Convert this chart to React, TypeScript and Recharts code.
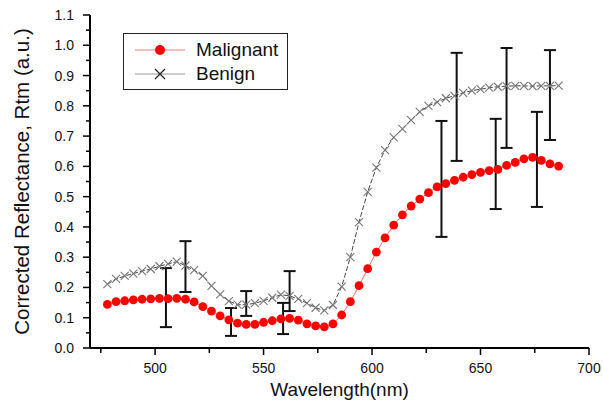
import { ComposedChart, Line, Scatter, XAxis, YAxis, ErrorBar, Label } from "recharts";

const FONT = '"Liberation Sans", Arial, sans-serif';

// wavelength grid (nm)
const wavelengths = [
  478, 482, 486, 490, 494, 498, 502, 506, 510, 514, 518, 522, 526, 530, 534, 538, 542, 546,
  550, 554, 558, 562, 566, 570, 574, 578, 582, 586, 590, 594, 598, 602, 606, 610, 614, 618,
  622, 626, 630, 634, 638, 642, 646, 650, 654, 658, 662, 666, 670, 674, 678, 682, 686,
];

const malignant = [
  0.144, 0.153, 0.156, 0.159, 0.161, 0.162, 0.164, 0.163, 0.164, 0.161, 0.152, 0.137, 0.122,
  0.106, 0.093, 0.082, 0.078, 0.078, 0.085, 0.09, 0.096, 0.098, 0.092, 0.08, 0.073, 0.07, 0.08,
  0.109, 0.153, 0.206, 0.262, 0.317, 0.364, 0.406, 0.44, 0.469, 0.492, 0.513, 0.532, 0.543,
  0.554, 0.564, 0.573, 0.58, 0.586, 0.59, 0.603, 0.613, 0.625, 0.63, 0.62, 0.608, 0.601,
];

const benign = [
  0.211, 0.228, 0.238, 0.246, 0.254, 0.261, 0.27, 0.278, 0.285, 0.272, 0.257, 0.238, 0.205,
  0.177, 0.155, 0.143, 0.143, 0.148, 0.156, 0.166, 0.176, 0.172, 0.162, 0.148, 0.133, 0.124,
  0.142, 0.203, 0.3, 0.416, 0.516, 0.596, 0.654, 0.696, 0.724, 0.753, 0.78, 0.8, 0.812, 0.825,
  0.833, 0.843, 0.85, 0.855, 0.86, 0.863, 0.865, 0.866, 0.866, 0.865, 0.866, 0.866, 0.867,
];

// error bars (bottom / top)
const errWavelengths = [505, 514, 535, 542, 559, 562, 632, 639, 657, 662, 676, 682];
const errLow = [0.069, 0.185, 0.04, 0.106, 0.046, 0.122, 0.367, 0.618, 0.459, 0.661, 0.466, 0.687];
const errHigh = [0.264, 0.353, 0.132, 0.188, 0.149, 0.254, 0.75, 0.975, 0.757, 0.991, 0.78, 0.984];

const xMajorTicks = [500, 550, 600, 650, 700];
const xMinorTicks = [475, 525, 575, 625, 675];
const yMajorTicks = [0, 0.1, 0.2, 0.3, 0.4, 0.5, 0.6, 0.7, 0.8, 0.9, 1.0, 1.1];
const yMinorTicks = [0.05, 0.15, 0.25, 0.35, 0.45, 0.55, 0.65, 0.75, 0.85, 0.95, 1.05];

const spectra = wavelengths.map((wl, i) => ({ wl, malignant: malignant[i], benign: benign[i] }));
const errData = errWavelengths.map((wl, i) => ({
  wl,
  mid: (errLow[i] + errHigh[i]) / 2,
  err: (errHigh[i] - errLow[i]) / 2,
}));

const xTicks = [...xMinorTicks, ...xMajorTicks].sort((a, b) => a - b);
const yTicks = [...yMinorTicks, ...yMajorTicks].sort((a, b) => a - b);

function XTick(props: any) {
  const { x, y, payload } = props;
  const major = xMajorTicks.includes(payload.value);
  return (
    <g>
      <line x1={x} y1={y} x2={x} y2={y + (major ? 7 : 5)} stroke="#000" strokeWidth={1.5} />
      {major && (
        <text x={x} y={y + 25} textAnchor="middle" fontSize={14} fontFamily={FONT} fill="#111">
          {payload.value}
        </text>
      )}
    </g>
  );
}

function YTick(props: any) {
  const { x, y, payload } = props;
  const major = yMajorTicks.some((v) => Math.abs(v - payload.value) < 1e-6);
  return (
    <g>
      <line x1={x - (major ? 7 : 4)} y1={y} x2={x} y2={y} stroke="#000" strokeWidth={1.5} />
      {major && (
        <text x={x - 16} y={y + 5} textAnchor="end" fontSize={14} fontFamily={FONT} fill="#111">
          {payload.value.toFixed(1)}
        </text>
      )}
    </g>
  );
}

function Cross(props: any) {
  const { cx, cy, index } = props;
  if (cx == null || cy == null) return <g key={`x-${index}`} />;
  const s = 4;
  return (
    <path
      key={`x-${index}`}
      d={`M${cx - s},${cy - s}L${cx + s},${cy + s}M${cx - s},${cy + s}L${cx + s},${cy - s}`}
      stroke="#777"
      strokeWidth={1.1}
      fill="none"
    />
  );
}

function LegendBox() {
  const row = (label: string, marker: any, lineColor: string) => (
    <div style={{ display: "flex", alignItems: "center", height: 24 }}>
      <svg width={62} height={24}>
        <line x1={4} y1={12} x2={54} y2={12} stroke={lineColor} strokeWidth={1} />
        {marker}
      </svg>
      <span style={{ fontSize: 19, fontFamily: FONT, color: "#111", marginLeft: 3 }}>{label}</span>
    </div>
  );
  return (
    <div
      style={{
        position: "absolute",
        left: 123,
        top: 33,
        border: "1.5px solid #222",
        background: "#fff",
        width: 165,
        height: 57,
        boxSizing: "border-box",
        padding: "4px 0 0 7px",
      }}
    >
      {row("Malignant", <circle cx={29} cy={12} r={5} fill="#ff0000" />, "#f08080")}
      {row(
        "Benign",
        <path d="M24,7L34,17M24,17L34,7" stroke="#222" strokeWidth={1.3} fill="none" />,
        "#999"
      )}
    </div>
  );
}

export default function App() {
  return (
    <div style={{ position: "fixed", left: 0, top: 0, width: 603, height: 412, background: "#fff" }}>
      <ComposedChart width={603} height={412} margin={{ top: 15, right: 14, bottom: 0, left: 0 }}>
        <XAxis
          dataKey="wl"
          type="number"
          domain={[470, 700]}
          ticks={xTicks}
          interval={0}
          allowDataOverflow
          height={64}
          tickSize={0}
          tickMargin={0}
          tickLine={false}
          tick={<XTick />}
          axisLine={{ stroke: "#000", strokeWidth: 2 }}
        >
          <Label
            value="Wavelength(nm)"
            position="insideBottom"
            offset={16}
            style={{ fontSize: 19, fontFamily: FONT, fill: "#111" }}
          />
        </XAxis>
        <YAxis
          type="number"
          domain={[0, 1.1]}
          ticks={yTicks}
          interval={0}
          allowDataOverflow
          width={90}
          tickSize={0}
          tickMargin={0}
          tickLine={false}
          tick={<YTick />}
          axisLine={{ stroke: "#000", strokeWidth: 2 }}
        >
          <Label
            value="Corrected Reflectance, Rtm (a.u.)"
            angle={-90}
            position="insideLeft"
            offset={22}
            style={{ fontSize: 20.5, fontFamily: FONT, fill: "#111", textAnchor: "middle" }}
          />
        </YAxis>
        <Line
          data={spectra}
          dataKey="benign"
          name="Benign"
          stroke="#333"
          strokeWidth={0.9}
          strokeDasharray="5 2"
          dot={(p: any) => <Cross {...p} />}
          activeDot={false}
          isAnimationActive={false}
        />
        <Line
          data={spectra}
          dataKey="malignant"
          name="Malignant"
          stroke="#f07070"
          strokeWidth={1}
          dot={{ r: 4.4, fill: "#ff0000", stroke: "none" }}
          activeDot={false}
          isAnimationActive={false}
        />
        <Scatter data={errData} dataKey="mid" shape={() => <g />} isAnimationActive={false}>
          <ErrorBar dataKey="err" direction="y" width={6} stroke="#111" strokeWidth={2} isAnimationActive={false} />
        </Scatter>
      </ComposedChart>
      <LegendBox />
    </div>
  );
}
